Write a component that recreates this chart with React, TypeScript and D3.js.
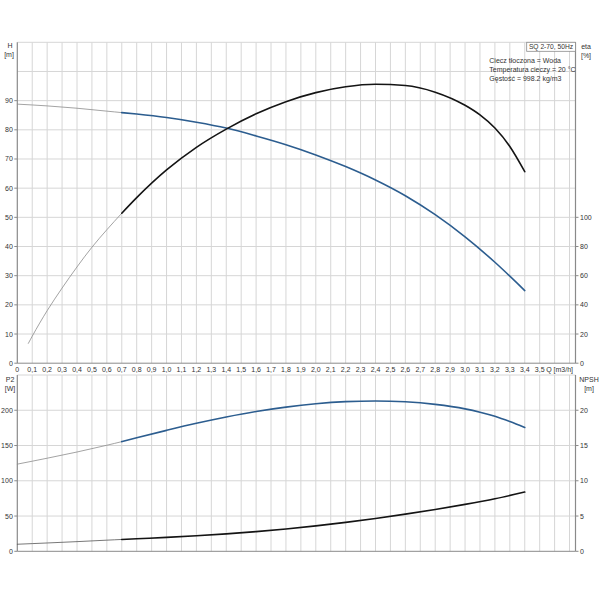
import React from "react";
import * as d3 from "d3";

// ---- data ----
const qTicks = d3.range(0, 36).map((i) => i / 10);
const hTicks = [0, 10, 20, 30, 40, 50, 60, 70, 80, 90];
const etaTicks = [0, 20, 40, 60, 80, 100];
const p2Ticks = [0, 50, 100, 150, 200];
const npshTicks = [0, 5, 10, 15, 20];

const hGrayQ = [0, 0.2, 0.4, 0.6, 0.7];
const hGrayV = [88.8, 88.2, 87.4, 86.4, 85.9];
const hQ = [0.7, 0.8, 1.0, 1.2, 1.4, 1.6, 1.8, 2.0, 2.2, 2.4, 2.6, 2.8, 3.0, 3.2, 3.4];
const hV = [85.9, 85.4, 84.2, 82.6, 80.6, 77.9, 74.9, 71.4, 67.4, 62.8, 57.4, 50.9, 43.3, 34.6, 24.9];

const etaGrayQ = [0.074, 0.1, 0.2, 0.3, 0.4, 0.5, 0.6, 0.7];
const etaGrayV = [13.6, 18.5, 36, 51.5, 66, 79.5, 91.5, 102.8];
const etaQ = [0.7, 0.8, 1.0, 1.2, 1.4, 1.6, 1.8, 2.0, 2.2, 2.4, 2.6, 2.8, 3.0, 3.1, 3.2, 3.3, 3.4];
const etaV = [102.8, 113.5, 132.5, 148, 160.5, 171, 179.3, 185.5, 189.5, 191.2, 190.4, 185.8, 176.8, 170.2, 161.2, 148.6, 131.3];

const p2GrayQ = [0, 0.2, 0.4, 0.6, 0.7];
const p2GrayV = [123.6, 132, 140.8, 150.4, 155.5];
const p2Q = [0.7, 0.8, 1.0, 1.2, 1.4, 1.6, 1.8, 2.0, 2.2, 2.4, 2.6, 2.8, 3.0, 3.1, 3.2, 3.3, 3.4];
const p2V = [155.5, 161, 171.5, 181.5, 190.5, 198.3, 204.5, 209.2, 212.2, 213.2, 212, 208.3, 202, 197.3, 191.5, 184, 175.6];

const npshGrayQ = [0, 0.2, 0.4, 0.6, 0.7];
const npshGrayV = [1.0, 1.18, 1.37, 1.58, 1.68];
const npshQ = [0.7, 0.8, 1.0, 1.2, 1.4, 1.6, 1.8, 2.0, 2.2, 2.4, 2.6, 2.8, 3.0, 3.2, 3.4];
const npshV = [1.68, 1.78, 1.97, 2.2, 2.47, 2.79, 3.16, 3.6, 4.1, 4.66, 5.27, 5.93, 6.65, 7.45, 8.4];

const infoLines = ["Ciecz tłoczona = Woda", "Temperatura cieczy = 20 °C", "Gęstość = 998.2 kg/m3"];
const title = "SQ 2-70, 50Hz";

// ---- layout ----
const L = 17.3;
const R = 575.5;
const topT = 42.3;
const topB = 363.2;
const botT = 375;
const botB = 551.3;

const FONT = "'Liberation Sans', Arial, sans-serif";
const TXT = "#333";
const GRID = "#d6d6d6";
const AXIS = "#8a8a8a";
const BLUE = "#2c5d8f";
const BLACK = "#141414";
const THIN = "#8c8c8c";

const x = d3.scaleLinear().domain([0, 3.74]).range([L, R]);
const yH = d3.scaleLinear().domain([0, 110]).range([topB, topT]);
const yEta = d3.scaleLinear().domain([0, 220]).range([topB, topT]);
const yP = d3.scaleLinear().domain([0, 250]).range([botB, botT]);
const yN = d3.scaleLinear().domain([0, 25]).range([botB, botT]);

function path(qs: number[], vs: number[], y: d3.ScaleLinear<number, number>) {
  const pts = qs.map((q, i) => [q, vs[i]] as [number, number]);
  return (
    d3
      .line<[number, number]>()
      .x((d) => x(d[0]))
      .y((d) => y(d[1]))
      .curve(d3.curveMonotoneX)(pts) || ""
  );
}

const fmt = (v: number) => (v === 0 ? "0" : v.toFixed(1).replace(".", ","));
const vGrid = d3.range(1, 38).map((i) => i / 10);

function Panel({ top, bottom, yL, yR, lTicks, rTicks, gridVals }: any) {
  return (
    <g>
      {vGrid.map((q) => (
        <line key={"v" + q} x1={x(q)} x2={x(q)} y1={top} y2={bottom} stroke={GRID} strokeWidth={1} />
      ))}
      {gridVals.map((v: number) => (
        <line key={"h" + v} x1={L} x2={R} y1={yL(v)} y2={yL(v)} stroke={GRID} strokeWidth={1} />
      ))}
      <line x1={L} x2={L} y1={top} y2={bottom} stroke={AXIS} strokeWidth={1.2} />
      <line x1={R} x2={R} y1={top} y2={bottom} stroke={AXIS} strokeWidth={1.2} />
      <line x1={L} x2={R} y1={bottom} y2={bottom} stroke={AXIS} strokeWidth={1} />
      {lTicks.map((v: number) => (
        <g key={"l" + v}>
          <line x1={L - 3} x2={L} y1={yL(v)} y2={yL(v)} stroke={AXIS} />
          <text x={L - 4.5} y={yL(v) + 2.5} textAnchor="end" fontSize={7} fill={TXT} fontFamily={FONT}>
            {v}
          </text>
        </g>
      ))}
      {rTicks.map((v: number) => (
        <g key={"r" + v}>
          <line x1={R} x2={R + 3} y1={yR(v)} y2={yR(v)} stroke={AXIS} />
          <text x={R + 4.5} y={yR(v) + 2.5} textAnchor="start" fontSize={7} fill={TXT} fontFamily={FONT}>
            {v}
          </text>
        </g>
      ))}
    </g>
  );
}

export default function App() {
  return (
    <svg
      width={600}
      height={600}
      style={{ position: "absolute", left: 0, top: 0, background: "#fff" }}
      fontFamily={FONT}
    >
      <rect x={0} y={0} width={600} height={600} fill="#fff" />
      <Panel
        top={topT}
        bottom={topB}
        yL={yH}
        yR={yEta}
        lTicks={hTicks}
        rTicks={etaTicks}
        gridVals={d3.range(10, 111, 10)}
      />
      <Panel
        top={botT}
        bottom={botB}
        yL={yP}
        yR={yN}
        lTicks={p2Ticks}
        rTicks={npshTicks}
        gridVals={d3.range(50, 251, 50)}
      />

      {/* x tick labels */}
      {qTicks.map((q) => (
        <text key={"x" + q} x={x(q)} y={371.5} textAnchor="middle" fontSize={7} fill={TXT}>
          {fmt(q)}
        </text>
      ))}
      <text x={573} y={371.5} textAnchor="end" fontSize={7} fill={TXT}>
        Q [m3/h]
      </text>

      {/* axis titles */}
      <text x={10} y={48} textAnchor="middle" fontSize={7} fill={TXT}>H</text>
      <text x={9} y={57} textAnchor="middle" fontSize={7} fill={TXT}>[m]</text>
      <text x={586} y={49} textAnchor="middle" fontSize={7} fill={TXT}>eta</text>
      <text x={586} y={58} textAnchor="middle" fontSize={7} fill={TXT}>[%]</text>
      <text x={10} y={382} textAnchor="middle" fontSize={7} fill={TXT}>P2</text>
      <text x={10} y={391} textAnchor="middle" fontSize={7} fill={TXT}>[W]</text>
      <text x={589} y={382} textAnchor="middle" fontSize={7} fill={TXT}>NPSH</text>
      <text x={589} y={391} textAnchor="middle" fontSize={7} fill={TXT}>[m]</text>

      {/* title box & info */}
      <rect x={526.7} y={42.3} width={48.8} height={9} fill="#fff" stroke={AXIS} strokeWidth={0.8} />
      <text x={551} y={49.3} textAnchor="middle" fontSize={6.7} fill={TXT}>{title}</text>
      {infoLines.map((t, i) => (
        <text key={t} x={489.3} y={63 + i * 9} fontSize={7} fill={TXT}>
          {t}
        </text>
      ))}

      {/* curves */}
      <g fill="none" strokeLinecap="round">
        <path d={path(hGrayQ, hGrayV, yH)} stroke={THIN} strokeWidth={0.8} />
        <path d={path(etaGrayQ, etaGrayV, yEta)} stroke={THIN} strokeWidth={0.8} />
        <path d={path(p2GrayQ, p2GrayV, yP)} stroke={THIN} strokeWidth={0.8} />
        <path d={path(npshGrayQ, npshGrayV, yN)} stroke="#555" strokeWidth={0.8} />
        <path d={path(hQ, hV, yH)} stroke={BLUE} strokeWidth={1.6} />
        <path d={path(etaQ, etaV, yEta)} stroke={BLACK} strokeWidth={1.6} />
        <path d={path(p2Q, p2V, yP)} stroke={BLUE} strokeWidth={1.6} />
        <path d={path(npshQ, npshV, yN)} stroke={BLACK} strokeWidth={1.6} />
      </g>
    </svg>
  );
}
